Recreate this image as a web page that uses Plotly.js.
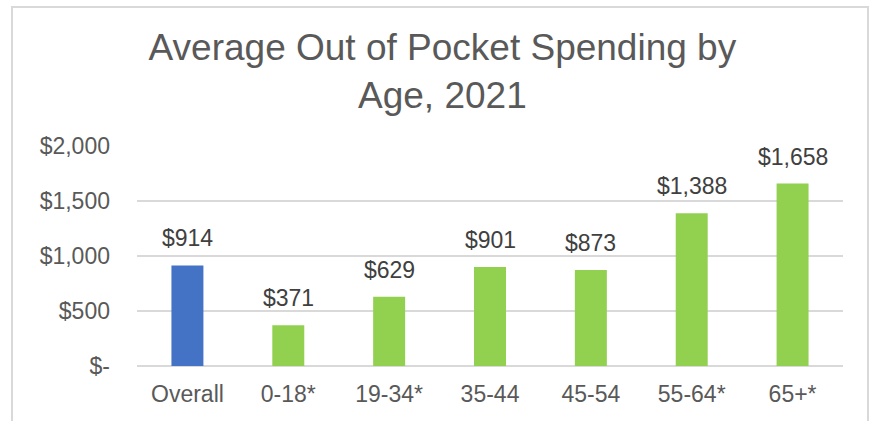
<!DOCTYPE html>
<html>
<head>
<meta charset="utf-8">
<script src="https://cdn.plot.ly/plotly-3.0.1.min.js"></script>
<style>
  html, body { margin: 0; padding: 0; background: #ffffff; }
  #wrap { position: relative; width: 876px; height: 421px; }
  #chart { width: 876px; height: 421px; }
  #frame { position: absolute; left: 11px; top: 6px; width: 858px; height: 430px;
           border: 2px solid #D9D9D9; pointer-events: none; box-sizing: border-box; }
</style>
</head>
<body>
<div id="wrap">
  <div id="chart"></div>
  <div id="frame"></div>
</div>
<script>
const categories = ["Overall", "0-18*", "19-34*", "35-44", "45-54", "55-64*", "65+*"];
const spending = [914, 371, 629, 901, 873, 1388, 1658];
const barColors = ["#4472C4", "#92D050", "#92D050", "#92D050", "#92D050", "#92D050", "#92D050"];
const tickValues = [0, 500, 1000, 1500, 2000];
const tickLabels = ["$-", "$500", "$1,000", "$1,500", "$2,000"];
const titleText = "Average Out of Pocket Spending by<br>Age, 2021";

const fmt = v => "$" + v.toLocaleString("en-US");
const FONT = "Liberation Sans, Arial, sans-serif";

const trace = {
  type: "bar",
  x: categories,
  y: spending,
  marker: { color: barColors },
  hoverinfo: "none"
};

const annotations = categories.map((c, i) => ({
  x: c, y: spending[i], xref: "x", yref: "y",
  text: fmt(spending[i]),
  showarrow: false,
  yanchor: "bottom",
  yshift: 12,
  font: { family: FONT, size: 23, color: "#404040" }
}));

const layout = {
  width: 876, height: 421,
  margin: { l: 137, r: 33, t: 146, b: 55 },
  paper_bgcolor: "#ffffff",
  plot_bgcolor: "#ffffff",
  showlegend: false,
  bargap: 0.683,
  title: {
    text: titleText,
    font: { family: FONT, size: 37, color: "#595959" },
    x: 0.505, xanchor: "center",
    y: 1 - 60 / 421, yanchor: "middle", yref: "container"
  },
  xaxis: {
    type: "category",
    tickfont: { family: FONT, size: 23, color: "#595959" },
    showgrid: false, showline: false, zeroline: false,
    ticks: "",
    ticklabelstandoff: 12
  },
  yaxis: {
    range: [0, 2000],
    tickvals: tickValues,
    ticktext: tickLabels,
    tickfont: { family: FONT, size: 23, color: "#595959" },
    showgrid: true, gridcolor: "#D9D9D9", gridwidth: 2,
    zeroline: true, zerolinecolor: "#D9D9D9", zerolinewidth: 2,
    showline: false, ticks: "",
    ticklabelstandoff: 26
  },
  annotations: annotations
};

Plotly.newPlot("chart", [trace], layout, { displayModeBar: false, staticPlot: true });
</script>
</body>
</html>
